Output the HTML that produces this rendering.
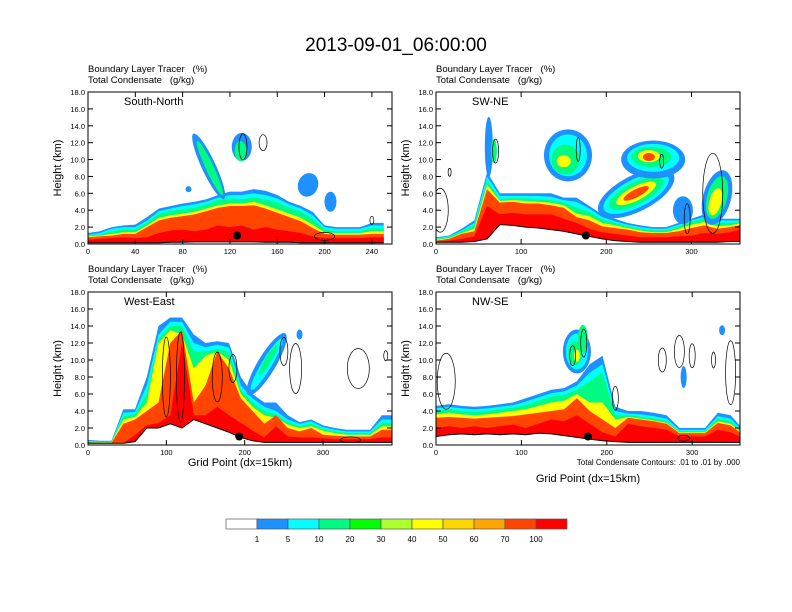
<!DOCTYPE html>
<html><head><meta charset="utf-8">
<style>
html,body{margin:0;padding:0;background:#fff;}
svg{display:block;font-family:"Liberation Sans",Arial,sans-serif;}
text{white-space:pre;}
</style></head>
<body>
<svg id="fig" width="792" height="612" viewBox="0 0 792 612" xmlns="http://www.w3.org/2000/svg">
<rect width="792" height="612" fill="#fff"/>
<text x="396" y="51" font-size="19" text-anchor="middle">2013-09-01_06:00:00</text>
<g id="panels"></g>
<g id="colorbar"></g>
<text x="740" y="465" font-size="8" text-anchor="end">Total Condensate Contours: .01 to .01 by .000</text>
</svg>
<script>
const NS="http://www.w3.org/2000/svg";
const levelColors=["#1e90ff","#00ffff","#00fa82","#ffff00","#ff4500","#ff0000"];
const barColors=["#ffffff","#1e90ff","#00ffff","#00fa82","#00ff00","#adff2f","#ffff00","#ffd700","#ffa500","#ff4500","#ff0000"];
const barLabels=["1","5","10","20","30","40","50","60","70","100"];
const yTicks=[0,2,4,6,8,10,12,14,16,18];

// Panel 1 South-North
const xs1=[0,10,20,30,40,50,60,70,80,90,100,110,120,130,140,150,160,170,180,190,200,210,220,230,240,250];
const ground1=[0.15,0.15,0.15,0.15,0.15,0.15,0.15,0.2,0.2,0.25,0.25,0.25,0.25,0.25,0.25,0.2,0.2,0.2,0.15,0.15,0.15,0.15,0.15,0.15,0.15,0.15];
const blue1=[1.3,1.5,2.0,2.2,2.3,3.2,4.2,4.5,4.8,5.0,5.3,5.8,6.2,6.2,6.5,6.3,5.8,5.0,4.5,3.8,2.2,2.0,2.0,2.0,2.5,2.5];
const cyan1=[1.1,1.3,1.8,2.0,2.0,2.8,3.9,4.2,4.5,4.7,5.0,5.5,5.8,5.8,6.0,5.8,5.4,4.7,4.2,3.4,2.0,1.8,1.8,1.8,2.2,2.2];
const green1=[1.0,1.1,1.5,1.7,1.7,2.5,3.6,3.9,4.1,4.3,4.7,5.2,5.4,5.3,5.5,5.3,4.9,4.3,3.8,3.0,1.7,1.5,1.5,1.5,1.9,1.8];
const yellow1=[0.9,1.0,1.2,1.4,1.4,2.2,3.1,3.4,3.6,3.8,4.2,4.6,4.8,4.8,5.0,4.6,4.1,3.6,3.1,2.3,1.4,1.3,1.3,1.3,1.5,1.5];
const orange1=[0.8,0.9,1.0,1.2,1.2,2.0,2.8,3.1,3.3,3.5,3.9,4.3,4.5,4.5,4.6,4.2,3.7,3.2,2.7,1.9,1.2,1.1,1.1,1.1,1.2,1.2];
const red1=[0.5,0.6,0.7,0.8,0.7,0.8,1.3,1.6,1.7,1.5,1.7,2.2,2.0,2.2,1.7,2.0,1.7,1.5,1.3,0.9,0.7,0.7,0.7,0.7,0.8,0.8];
const blobs1=[[102,9.2,36,7,65,0],[103,9,30,4,65,2],[130,11.5,10,14,0,0],[129,11,6,10,0,2],[186,7,10,12,20,0],[85,6.5,3,3,0,0],[205,5,6,10,0,0]];
const lines1=[[131,11.5,4,13],[148,12,4,8],[240,2.8,2,4],[200,0.9,10,4]];

// Panel 2 SW-NE
const xs2=[0,15,30,45,60,75,90,105,120,135,150,165,180,195,210,225,240,255,270,285,300,315,330,345,360];
const ground2=[0.2,0.2,0.2,0.3,0.6,2.3,2.2,2.0,1.9,1.7,1.5,1.2,0.9,0.6,0.4,0.3,0.2,0.2,0.2,0.2,0.2,0.2,0.2,0.3,0.3];
const blue2=[0.8,1.0,1.8,2.8,8.5,6.0,6.0,6.0,6.0,6.0,5.5,5.5,4.5,3.5,3.0,2.5,2.2,2.0,2.0,2.5,3.0,3.5,3.0,3.0,3.0];
const cyan2=[0.7,0.9,1.6,2.5,8.0,5.7,5.7,5.7,5.7,5.6,5.2,5.0,4.2,3.2,2.7,2.3,2.0,1.8,1.8,2.3,2.8,3.2,2.8,2.8,2.8];
const green2=[0.6,0.8,1.5,2.2,7.5,5.3,5.4,5.4,5.3,5.2,4.9,4.3,3.8,2.9,2.5,2.1,1.8,1.6,1.6,2.1,2.6,3.0,2.5,2.5,2.6];
const yellow2=[0.5,0.7,1.3,1.8,7.0,5.1,5.2,5.1,5.0,4.9,4.6,3.6,3.3,2.5,2.2,1.9,1.6,1.4,1.4,1.8,2.3,2.6,2.1,2.2,2.5];
const orange2=[0.4,0.6,1.2,1.5,6.5,4.9,5.0,4.8,4.8,4.6,4.3,3.2,2.8,2.1,1.9,1.7,1.4,1.3,1.3,1.5,1.9,2.2,1.8,2.0,2.3];
const red2=[0.3,0.4,0.6,0.9,4.5,3.5,3.7,3.5,3.5,3.5,3.0,2.5,1.8,1.4,1.2,1.0,0.8,0.8,0.8,0.9,1.0,1.3,1.2,1.4,1.8];
const blobs2=[[62,11.5,4,30,0,0],[68,11,3,12,0,2],
[155,10.5,24,26,0,0],[155,10.5,19,21,0,1],[152,10,14,15,0,2],[150,9.8,7,6,0,3],
[235,6,42,18,-27,0],[235,6,36,14,-27,1],[235,6,30,11,-27,2],[235,6,22,7,-27,3],[235,6,14,4,-27,4],
[255,10,32,19,0,0],[255,10.2,26,14,0,1],[253,10.3,20,10,0,2],[250,10.4,11,6,0,3],[250,10.3,6,4,0,4],
[290,4,10,14,0,0],[330,5.5,14,28,15,0],[330,5.5,10,22,15,2],[328,5,6,14,15,3]];
const lines2=[[70,11,3,12],[167,11.2,2,12],[16,8.5,1.5,4],[265,9.8,2,7],[325,6,10,40],[5,4,8,22],[295,3,3,15]];

// Panel 3 West-East
const xs3=[0,15,30,45,60,75,90,105,120,135,150,165,180,195,210,225,240,255,270,285,300,315,330,345,360,375,390];
const ground3=[0.2,0.2,0.2,0.2,0.4,2.0,2.0,2.5,2.0,3.0,2.5,2.0,1.5,0.9,0.5,0.3,0.3,0.3,0.3,0.3,0.3,0.3,0.3,0.3,0.3,0.3,0.3];
const blue3=[0.6,0.5,0.5,4.2,4.2,8.0,14.0,15.0,15.0,13.0,12.0,12.2,12.0,8.0,6.0,5.0,5.0,3.5,2.7,3.0,2.3,2.0,1.8,1.8,1.8,3.5,3.5];
const cyan3=[0.5,0.4,0.4,3.8,3.9,7.0,13.0,14.5,14.5,12.0,11.5,11.8,11.5,7.0,5.5,4.5,4.0,3.0,2.5,2.8,2.1,1.8,1.6,1.6,1.6,3.0,3.0];
const green3=[0.4,0.3,0.3,3.4,3.6,6.0,12.5,14.0,14.0,11.0,11.0,11.3,11.0,6.5,5.0,4.0,3.6,2.7,2.2,2.5,1.9,1.6,1.4,1.4,1.4,2.6,2.6];
const yellow3=[0.3,0.3,0.3,3.0,3.3,5.0,12.0,13.5,13.0,9.0,10.5,11.0,10.0,6.0,4.5,3.5,3.2,2.4,2.0,2.2,1.7,1.4,1.2,1.2,1.2,2.2,2.2];
const orange3=[0.3,0.25,0.25,2.5,3.0,4.0,5.0,12.0,13.5,5.0,7.0,11.0,9.0,5.5,4.0,2.5,3.5,2.0,1.6,2.0,1.2,1.1,1.0,1.0,1.0,1.8,1.8];
const red3=[0.25,0.2,0.2,0.2,1.2,2.3,2.6,3.5,12.0,3.5,3.5,4.5,3.5,2.6,1.7,0.9,2.2,1.0,0.9,0.9,0.8,0.7,0.7,0.7,0.7,0.9,0.9];
const blobs3=[[228,9.5,36,9,-59,0],[228,9.5,30,5,-59,1],[230,10,18,3,-59,2],[270,13,3,5,0,0]];
const lines3=[[100,8,4,40],[118,8,4,45],[165,8,5,25],[185,9,4,14],[250,11,4,14],[265,9,6,25],[345,9,11,20],[380,10.5,2,5],[335,0.6,10,3]];

// Panel 4 NW-SE
const xs4=[0,15,30,45,60,75,90,105,120,135,150,165,180,195,210,225,240,255,270,285,300,315,330,345,360];
const ground4=[1.0,1.2,1.3,1.2,1.3,1.2,1.3,1.2,1.4,1.3,1.1,0.9,0.7,0.5,0.4,0.3,0.3,0.3,0.3,0.3,0.3,0.3,0.3,0.3,0.3];
const blue4=[4.6,4.8,4.6,4.5,4.6,4.8,5.0,5.5,6.0,6.5,6.7,7.5,9.5,10.5,4.5,4.0,4.0,3.8,3.5,2.0,2.0,2.0,3.8,3.5,1.8];
const cyan4=[4.3,4.5,4.3,4.2,4.3,4.5,4.7,5.1,5.6,6.1,6.3,7.0,8.5,9.5,4.0,3.7,3.6,3.4,3.1,1.8,1.8,1.8,3.4,3.1,1.6];
const green4=[4.0,4.2,4.0,3.9,4.0,4.2,4.4,4.7,5.2,5.7,5.9,6.5,7.5,8.5,3.5,3.5,3.3,3.1,2.8,1.6,1.6,1.6,3.1,2.8,1.4];
const yellow4=[3.6,3.8,3.6,3.5,3.6,3.8,4.0,4.2,4.6,5.0,5.2,6.0,5.0,5.0,3.0,3.3,3.1,2.9,2.6,1.5,1.5,1.5,2.8,2.5,1.3];
const orange4=[3.2,3.3,3.2,3.1,3.2,3.3,3.4,3.6,3.8,4.0,4.2,5.5,4.0,3.0,2.0,3.2,3.0,2.8,2.5,1.4,1.4,1.4,2.6,2.3,1.2];
const red4=[2.0,2.2,2.0,2.2,2.0,2.2,2.4,2.0,2.5,3.0,2.8,3.5,2.5,1.5,1.0,2.5,2.2,2.0,1.8,1.0,1.0,1.0,1.8,1.5,0.8];
const blobs4=[[165,11,14,22,0,0],[165,11,11,18,0,1],[163,10.8,7,12,0,2],[172,12.5,5,14,0,2],[165,10.5,3,6,0,3],[335,13.5,3,5,0,0],[290,8,3,11,0,0]];
const lines4=[[12,7.5,9,28],[160,10.5,3,10],[173,12,3,14],[210,5.5,3,12],[265,10,4,12],[285,11,5,16],[300,10.5,3,12],[325,10,2,8],[345,8.5,5,32],[290,0.8,6,3]];

const panels=[
 {name:"south-north",label:"South-North",x0:88,x1:392,y0:92,y1:244,xmax:257,xt:[0,40,80,120,160,200,240],xs:xs1,g:ground1,lv:[blue1,cyan1,green1,yellow1,orange1,red1],bl:blobs1,ln:lines1,dot:126,xlab:false},
 {name:"sw-ne",label:"SW-NE",x0:436,x1:740,y0:92,y1:244,xmax:357,xt:[0,100,200,300],xs:xs2,g:ground2,lv:[blue2,cyan2,green2,yellow2,orange2,red2],bl:blobs2,ln:lines2,dot:176,xlab:false},
 {name:"west-east",label:"West-East",x0:88,x1:392,y0:292,y1:445,xmax:388,xt:[0,100,200,300],xs:xs3,g:ground3,lv:[blue3,cyan3,green3,yellow3,orange3,red3],bl:blobs3,ln:lines3,dot:193,xlab:466},
 {name:"nw-se",label:"NW-SE",x0:436,x1:740,y0:292,y1:445,xmax:356,xt:[0,100,200,300],xs:xs4,g:ground4,lv:[blue4,cyan4,green4,yellow4,orange4,red4],bl:blobs4,ln:lines4,dot:178,xlab:482}
];

function el(tag,attrs,parent){const e=document.createElementNS(NS,tag);for(const k in attrs)e.setAttribute(k,attrs[k]);parent.appendChild(e);return e;}
const root=document.getElementById("panels");
panels.forEach(p=>{
 const g=el("g",{},root);
 
 
 const sx=v=>p.x0+v/p.xmax*(p.x1-p.x0);
 const sy=v=>p.y1-v/18*(p.y1-p.y0);
 const cid="clip-"+p.name;
 const cp=el("clipPath",{id:cid},g);el("rect",{x:p.x0,y:p.y0,width:p.x1-p.x0,height:p.y1-p.y0},cp);
 const plot=el("g",{"clip-path":"url(#"+cid+")"},g);
 p.lv.forEach((arr,li)=>{
  let pts=p.xs.map((x,i)=>sx(x).toFixed(1)+","+sy(Math.max(arr[i],p.g[i])).toFixed(1));
  const gr=p.xs.map((x,i)=>sx(x).toFixed(1)+","+sy(p.g[i]).toFixed(1)).reverse();
  const poly=el("polygon",{points:pts.concat(gr).join(" "),fill:levelColors[li]},plot);
  
  
 });
 p.bl.forEach(b=>{
  const cx=sx(b[0]),cy=sy(b[1]);
  const e=el("ellipse",{cx:cx,cy:cy,rx:b[2],ry:b[3],transform:"rotate("+b[4]+" "+cx+" "+cy+")",fill:levelColors[b[5]]},plot);
  
  
 });
 p.ln.forEach(c=>{
  const e=el("ellipse",{cx:sx(c[0]),cy:sy(c[1]),rx:c[2],ry:c[3],fill:"none",stroke:"#000","stroke-width":0.7},plot);
  
  
 });
 const tf=el("polygon",{points:p.xs.map((x,i)=>sx(x).toFixed(1)+","+sy(p.g[i]).toFixed(1)).concat([sx(p.xs[p.xs.length-1])+","+p.y1,p.x0+","+p.y1]).join(" "),fill:"#fff"},plot);
 
 
 const tl=el("polyline",{points:p.xs.map((x,i)=>sx(x).toFixed(1)+","+sy(p.g[i]).toFixed(1)).join(" "),fill:"none",stroke:"#000","stroke-width":1},plot);
 
 
 const d=el("circle",{cx:sx(p.dot),cy:sy(1.0),r:4,fill:"#000"},plot);
 
 
 const fr=el("rect",{x:p.x0,y:p.y0,width:p.x1-p.x0,height:p.y1-p.y0,fill:"none",stroke:"#000","stroke-width":1},g);
 
 
 yTicks.forEach(v=>{
  const y=sy(v);
  el("line",{x1:p.x0,x2:p.x0+5,y1:y,y2:y,stroke:"#000"},g);
  el("line",{x1:p.x1,x2:p.x1-5,y1:y,y2:y,stroke:"#000"},g);
  const t=el("text",{x:p.x0-3,y:y+3,"font-size":7.5,"text-anchor":"end"},g);t.textContent=v.toFixed(1);
  
  
 });
 p.xt.forEach(v=>{
  const x=sx(v);
  el("line",{x1:x,x2:x,y1:p.y1,y2:p.y1-5,stroke:"#000"},g);
  el("line",{x1:x,x2:x,y1:p.y0,y2:p.y0+5,stroke:"#000"},g);
  const t=el("text",{x:x,y:p.y1+10,"font-size":7.5,"text-anchor":"middle"},g);t.textContent=v;
  
  
 });
 const lab=el("text",{x:p.x0+36,y:p.y0+13,"font-size":11},g);lab.textContent=p.label;
 
 
 const s1=el("text",{x:p.x0,y:p.y0-20,"font-size":9.5},g);s1.textContent="Boundary Layer Tracer   (%)";
 
 
 const s2=el("text",{x:p.x0,y:p.y0-9,"font-size":9.5},g);s2.textContent="Total Condensate   (g/kg)";
 
 
 const ym=(p.y0+p.y1)/2;
 const yl=el("text",{x:p.x0-27,y:ym,"font-size":11,"text-anchor":"middle",transform:"rotate(-90 "+(p.x0-27)+" "+ym+")"},g);yl.textContent="Height (km)";
 
 
 if(p.xlab){
  const xl=el("text",{x:(p.x0+p.x1)/2,y:p.xlab,"font-size":11,"text-anchor":"middle"},g);xl.textContent="Grid Point (dx=15km)";
  
  
 }
});
const cb=document.getElementById("colorbar");
const bx0=226,bw=31,by=519,bh=10;
barColors.forEach((c,i)=>{
 const r=el("rect",{x:bx0+i*bw,y:by,width:bw,height:bh,fill:c,stroke:"#555","stroke-width":0.7},cb);
 
 
});
barLabels.forEach((l,i)=>{
 const t=el("text",{x:bx0+(i+1)*bw,y:by+23,"font-size":8,"text-anchor":"middle"},cb);t.textContent=l;
 
 
});
</script>
</body></html>
